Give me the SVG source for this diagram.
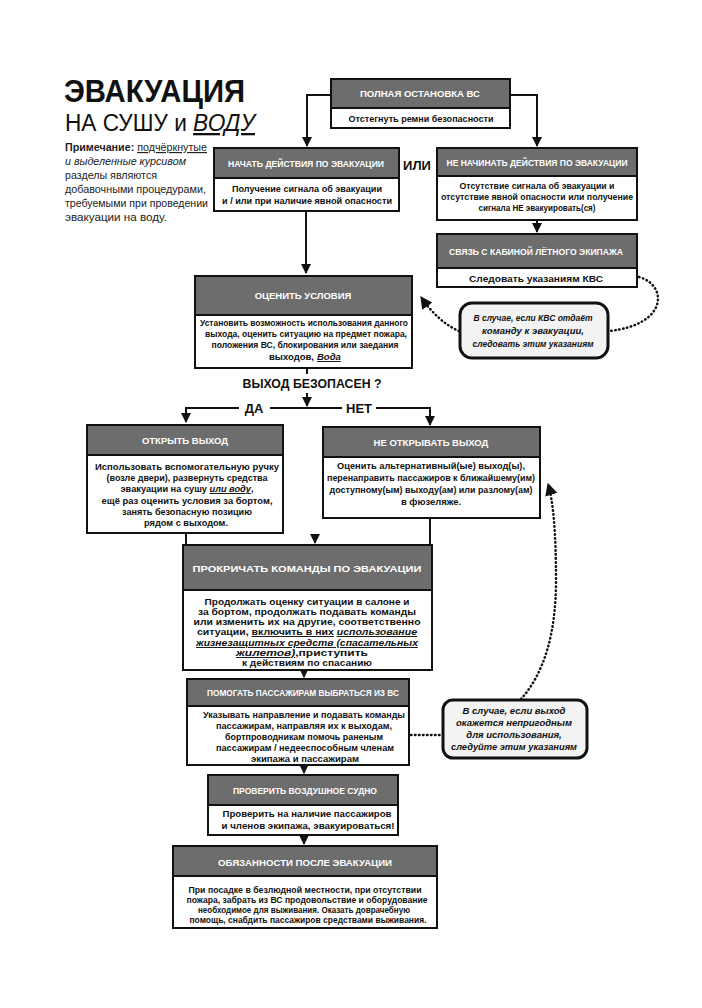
<svg xmlns="http://www.w3.org/2000/svg" width="702" height="1008" viewBox="0 0 702 1008">
<defs>
<style>
.box{fill:#fff;stroke:#111;stroke-width:2}
.hdr{fill:#6d6d6d;stroke:#111;stroke-width:2}
.ht{font-family:"Liberation Sans",Arial,sans-serif;font-weight:bold;font-size:9.5px;fill:#fff;text-anchor:middle}
.bt{font-family:"Liberation Sans",Arial,sans-serif;font-weight:bold;font-size:9.5px;fill:#111;text-anchor:middle}
.call{fill:#f3f3f3;stroke:#111;stroke-width:3}
.ct{font-family:"Liberation Sans",Arial,sans-serif;font-weight:bold;font-style:italic;font-size:9.5px;fill:#111;text-anchor:middle}
.ln{fill:none;stroke:#111;stroke-width:2}
.dot{fill:none;stroke:#111;stroke-width:2.5;stroke-dasharray:0.5 3.5;stroke-linecap:round}
.lbl{font-family:"Liberation Sans",Arial,sans-serif;font-weight:bold;font-size:13px;fill:#111;text-anchor:middle}
.note{font-family:"Liberation Sans",Arial,sans-serif;font-size:11.5px;fill:#222}
.iu{font-style:italic;text-decoration:underline}
</style>
<marker id="ah" viewBox="0 0 10 10" refX="9" refY="5" markerWidth="5" markerHeight="5" orient="auto" markerUnits="strokeWidth">
<path d="M0,0 L10,5 L0,10 z" fill="#111"/>
</marker>
</defs>
<rect width="702" height="1008" fill="#fff"/>

<g id="title">
<text x="64" y="102" font-family="Liberation Sans,Arial,sans-serif" font-weight="bold" font-size="32" fill="#111" textLength="181" lengthAdjust="spacingAndGlyphs">ЭВАКУАЦИЯ</text>
<text x="65" y="131" font-family="Liberation Sans,Arial,sans-serif" font-size="23" fill="#111" textLength="190" lengthAdjust="spacingAndGlyphs">НА СУШУ и <tspan font-style="italic" text-decoration="underline">ВОДУ</tspan></text>
</g>
<g id="note" class="note">
<text x="65" y="151" textLength="142" lengthAdjust="spacingAndGlyphs"><tspan font-weight="bold">Примечание:</tspan> <tspan text-decoration="underline">подчёркнутые</tspan></text>
<text x="65" y="165" font-style="italic" textLength="121" lengthAdjust="spacingAndGlyphs">и выделенные курсивом</text>
<text x="65" y="179" textLength="92" lengthAdjust="spacingAndGlyphs">разделы являются</text>
<text x="65" y="193" textLength="141" lengthAdjust="spacingAndGlyphs">добавочными процедурами,</text>
<text x="65" y="207" textLength="143" lengthAdjust="spacingAndGlyphs">требуемыми при проведении</text>
<text x="65" y="221" textLength="102" lengthAdjust="spacingAndGlyphs">эвакуации на воду.</text>
</g>

<g id="connectors">
<path class="ln" d="M331 95 H307 V146" marker-end="url(#ah)"/>
<path class="ln" d="M510 95 H537 V146" marker-end="url(#ah)"/>
<path class="ln" d="M306 212 V273" marker-end="url(#ah)"/>
<path class="ln" d="M537 221 V232" marker-end="url(#ah)"/>
<path class="ln" d="M307 369 V374"/>
<path class="ln" d="M307 393 V406" marker-end="url(#ah)"/>
<path class="ln" d="M239 408 H186 V422" marker-end="url(#ah)"/>
<path class="ln" d="M270 408 H342"/>
<path class="ln" d="M376 408 H430 V425" marker-end="url(#ah)"/>
<path class="ln" d="M186 534 V545"/>
<path class="ln" d="M430 519 V545"/>
<path class="ln" d="M315 536 V543" marker-end="url(#ah)"/>
<path class="ln" d="M304 671 V677" marker-end="url(#ah)"/>
<path class="ln" d="M304 766 V773" marker-end="url(#ah)"/>
<path class="ln" d="M304 836 V844" marker-end="url(#ah)"/>
<path class="dot" d="M639 277 C668 285 668 325 609 331"/>
<path class="dot" d="M459 331 Q438 322 421 297" marker-end="url(#ah)"/>
<path class="dot" d="M411 735 H442"/>
<path class="dot" d="M521 699 Q556 660 556 580 Q556 510 548 484" marker-end="url(#ah)"/>
<text class="lbl" x="312" y="388" font-size="14" textLength="139" lengthAdjust="spacingAndGlyphs">ВЫХОД БЕЗОПАСЕН ?</text>
<text class="lbl" x="254" y="413">ДА</text>
<text class="lbl" x="359" y="413">НЕТ</text>
<text class="lbl" x="417" y="170" font-size="15">ИЛИ</text>
</g>

<g id="n-stop">
<rect class="hdr" x="331" y="79" width="179" height="29"/>
<rect class="box" x="331" y="108" width="179" height="20"/>
<text class="ht" x="420" y="97" textLength="120" lengthAdjust="spacingAndGlyphs">ПОЛНАЯ ОСТАНОВКА ВС</text>
<text class="bt" x="421" y="122" textLength="145" lengthAdjust="spacingAndGlyphs">Отстегнуть ремни безопасности</text>
</g>

<g id="n-start">
<rect class="hdr" x="214" y="148" width="185" height="30"/>
<rect class="box" x="214" y="178" width="185" height="33"/>
<text class="ht" x="306" y="167" textLength="156" lengthAdjust="spacingAndGlyphs">НАЧАТЬ ДЕЙСТВИЯ ПО ЭВАКУАЦИИ</text>
<text class="bt" x="307" y="192" textLength="150" lengthAdjust="spacingAndGlyphs">Получение сигнала об эвакуации</text>
<text class="bt" x="307" y="204" textLength="170" lengthAdjust="spacingAndGlyphs">и / или при наличие явной опасности</text>
</g>

<g id="n-nostart">
<rect class="hdr" x="437" y="148" width="200" height="28"/>
<rect class="box" x="437" y="176" width="200" height="44"/>
<text class="ht" x="537" y="166" textLength="181" lengthAdjust="spacingAndGlyphs">НЕ НАЧИНАТЬ ДЕЙСТВИЯ ПО ЭВАКУАЦИИ</text>
<text class="bt" x="537" y="189" textLength="155" lengthAdjust="spacingAndGlyphs">Отсутствие сигнала об эвакуации и</text>
<text class="bt" x="537" y="200" textLength="192" lengthAdjust="spacingAndGlyphs">отсутствие явной опасности или получение</text>
<text class="bt" x="537" y="211" textLength="117" lengthAdjust="spacingAndGlyphs">сигнала НЕ эвакуировать(ся)</text>
</g>

<g id="n-cockpit">
<rect class="hdr" x="437" y="234" width="200" height="34"/>
<rect class="box" x="437" y="268" width="200" height="19"/>
<text class="ht" x="536" y="255" textLength="174" lengthAdjust="spacingAndGlyphs">СВЯЗЬ С КАБИНОЙ ЛЁТНОГО ЭКИПАЖА</text>
<text class="bt" x="536" y="282" font-size="11" textLength="134" lengthAdjust="spacingAndGlyphs">Следовать указаниям КВС</text>
</g>

<g id="n-callout1">
<rect class="call" x="460" y="303" width="148" height="55" rx="12"/>
<text class="ct" x="533" y="321" textLength="119" lengthAdjust="spacingAndGlyphs">В случае, если КВС отдаёт</text>
<text class="ct" x="533" y="334">команду к эвакуации,</text>
<text class="ct" x="533" y="347" textLength="121" lengthAdjust="spacingAndGlyphs">следовать этим указаниям</text>
</g>

<g id="n-assess">
<rect class="hdr" x="195" y="276" width="217" height="39"/>
<rect class="box" x="195" y="315" width="217" height="53"/>
<text class="ht" x="303" y="299" font-size="10.5">ОЦЕНИТЬ УСЛОВИЯ</text>
<text class="bt" x="304" y="326" font-size="9" textLength="208" lengthAdjust="spacingAndGlyphs">Установить возможность использования данного</text>
<text class="bt" x="306" y="337" font-size="9" textLength="202" lengthAdjust="spacingAndGlyphs">выхода, оценить ситуацию на предмет пожара,</text>
<text class="bt" x="305" y="348" font-size="9" textLength="187" lengthAdjust="spacingAndGlyphs">положения ВС, блокирования или заедания</text>
<text class="bt" x="314" y="360" font-size="9" text-anchor="end" style="text-anchor:end">выходов,</text>
<text class="bt iu" x="317" y="360" font-size="9" style="text-anchor:start">Вода</text>
</g>

<g id="n-open">
<rect class="hdr" x="87" y="425" width="196" height="30"/>
<rect class="box" x="87" y="455" width="196" height="78"/>
<text class="ht" x="185" y="444">ОТКРЫТЬ ВЫХОД</text>
<text class="bt" x="187" y="470" textLength="184" lengthAdjust="spacingAndGlyphs">Использовать вспомогательную ручку</text>
<text class="bt" x="187" y="481" textLength="161" lengthAdjust="spacingAndGlyphs">(возле двери), развернуть средства</text>
<text class="bt" x="187" y="492" textLength="133" lengthAdjust="spacingAndGlyphs">эвакуации  на сушу  <tspan class="iu">или воду</tspan>,</text>
<text class="bt" x="187" y="504" textLength="171" lengthAdjust="spacingAndGlyphs">ещё раз оценить условия за бортом,</text>
<text class="bt" x="187" y="515" textLength="130" lengthAdjust="spacingAndGlyphs">занять безопасную позицию</text>
<text class="bt" x="186" y="526" textLength="84" lengthAdjust="spacingAndGlyphs">рядом с выходом.</text>
</g>

<g id="n-noopen">
<rect class="hdr" x="323" y="427" width="217" height="30"/>
<rect class="box" x="323" y="457" width="217" height="61"/>
<text class="ht" x="431" y="446">НЕ ОТКРЫВАТЬ ВЫХОД</text>
<text class="bt" x="431" y="469" textLength="188" lengthAdjust="spacingAndGlyphs">Оценить альтернативный(ые) выход(ы),</text>
<text class="bt" x="431" y="481" textLength="208" lengthAdjust="spacingAndGlyphs">перенаправить пассажиров к ближайшему(им)</text>
<text class="bt" x="431" y="493" textLength="203" lengthAdjust="spacingAndGlyphs">доступному(ым) выходу(ам) или разлому(ам)</text>
<text class="bt" x="431" y="505" textLength="60" lengthAdjust="spacingAndGlyphs">в фюзеляже.</text>
</g>

<g id="n-shout">
<rect class="hdr" x="183" y="545" width="249" height="45"/>
<rect class="box" x="183" y="590" width="249" height="80"/>
<text class="ht" x="307" y="572" font-size="12" textLength="229" lengthAdjust="spacingAndGlyphs">ПРОКРИЧАТЬ КОМАНДЫ ПО ЭВАКУАЦИИ</text>
<text class="bt" x="307" y="605" font-size="10.5" textLength="205" lengthAdjust="spacingAndGlyphs">Продолжать оценку ситуации в салоне и</text>
<text class="bt" x="307" y="615" font-size="10.5" textLength="218" lengthAdjust="spacingAndGlyphs">за бортом, продолжать подавать команды</text>
<text class="bt" x="307" y="625" font-size="10.5" textLength="227" lengthAdjust="spacingAndGlyphs">или изменить их на другие, соответственно</text>
<text class="bt" x="307" y="635" font-size="10.5" textLength="220" lengthAdjust="spacingAndGlyphs">ситуации, <tspan text-decoration="underline">включить в них</tspan> <tspan class="iu">использование</tspan></text>
<text class="bt" x="307" y="646" font-size="10.5" textLength="222" lengthAdjust="spacingAndGlyphs"><tspan class="iu">жизнезащитных средств (спасательных</tspan></text>
<text class="bt" x="302" y="656" font-size="10.5" textLength="132" lengthAdjust="spacingAndGlyphs"><tspan class="iu">жилетов)</tspan>,приступить</text>
<text class="bt" x="307" y="666" font-size="10.5" textLength="130" lengthAdjust="spacingAndGlyphs">к действиям по спасанию</text>
</g>

<g id="n-help">
<rect class="hdr" x="187" y="679" width="222" height="27"/>
<rect class="box" x="187" y="706" width="222" height="59"/>
<text class="ht" x="303" y="696" textLength="192" lengthAdjust="spacingAndGlyphs">ПОМОГАТЬ ПАССАЖИРАМ ВЫБРАТЬСЯ ИЗ ВС</text>
<text class="bt" x="304" y="718" textLength="202" lengthAdjust="spacingAndGlyphs">Указывать направление и подавать команды</text>
<text class="bt" x="304" y="729" textLength="176" lengthAdjust="spacingAndGlyphs">пассажирам, направляя их к выходам,</text>
<text class="bt" x="304" y="740" textLength="158" lengthAdjust="spacingAndGlyphs">бортпроводникам помочь раненым</text>
<text class="bt" x="305" y="751" textLength="178" lengthAdjust="spacingAndGlyphs">пассажирам / недееспособным членам</text>
<text class="bt" x="305" y="762" textLength="108" lengthAdjust="spacingAndGlyphs">экипажа и пассажирам</text>
</g>

<g id="n-callout2">
<rect class="call" x="443" y="700" width="144" height="58" rx="10"/>
<text class="ct" x="514" y="714">В случае, если выход</text>
<text class="ct" x="514" y="726">окажется непригодным</text>
<text class="ct" x="514" y="738">для использования,</text>
<text class="ct" x="514" y="750" textLength="126" lengthAdjust="spacingAndGlyphs">следуйте этим указаниям</text>
</g>

<g id="n-check">
<rect class="hdr" x="208" y="775" width="190" height="30"/>
<rect class="box" x="208" y="805" width="190" height="30"/>
<text class="ht" x="305" y="794" textLength="144" lengthAdjust="spacingAndGlyphs">ПРОВЕРИТЬ ВОЗДУШНОЕ СУДНО</text>
<text class="bt" x="307" y="817" font-size="10" textLength="169" lengthAdjust="spacingAndGlyphs">Проверить на наличие пассажиров</text>
<text class="bt" x="308" y="829" font-size="10" textLength="173" lengthAdjust="spacingAndGlyphs">и  членов экипажа, эвакуироваться!</text>
</g>

<g id="n-after">
<rect class="hdr" x="173" y="846" width="264" height="30"/>
<rect class="box" x="173" y="876" width="264" height="52"/>
<text class="ht" x="305" y="866" font-size="10.5" textLength="174" lengthAdjust="spacingAndGlyphs">ОБЯЗАННОСТИ ПОСЛЕ ЭВАКУАЦИИ</text>
<text class="bt" x="305" y="893" font-size="9" textLength="233" lengthAdjust="spacingAndGlyphs">При посадке в безлюдной местности, при отсутствии</text>
<text class="bt" x="307" y="903" font-size="9" textLength="241" lengthAdjust="spacingAndGlyphs">пожара, забрать из ВС продовольствие и оборудование</text>
<text class="bt" x="304" y="913" font-size="9" textLength="212" lengthAdjust="spacingAndGlyphs">необходимое для выживания. Оказать доврачебную</text>
<text class="bt" x="308" y="923" font-size="9" textLength="237" lengthAdjust="spacingAndGlyphs">помощь, снабдить пассажиров средствами выживания.</text>
</g>
</svg>
